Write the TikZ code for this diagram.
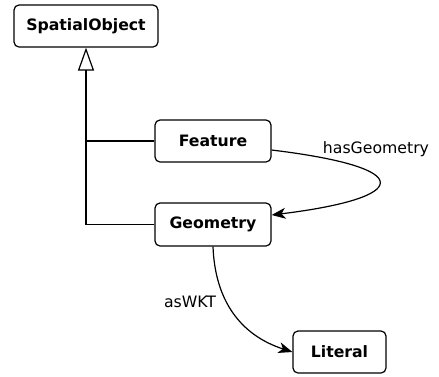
\documentclass[tikz,border=0pt]{standalone}
\usepackage{fontspec}
\setmainfont{DejaVu Sans}
\usetikzlibrary{arrows.meta}
\begin{document}
\begin{tikzpicture}[x=1pt,y=-1pt,
  cls/.style={draw,line width=1.2pt,rounded corners=5pt,inner sep=0pt,minimum height=42pt,font=\fontsize{15.7}{18}\selectfont\bfseries},
  lbl/.style={font=\fontsize{15.7}{18}\selectfont},
  conn/.style={line width=1.2pt},
  head/.style={-{Stealth[length=14pt,width=11pt,inset=4pt]}}]
\useasboundingbox (0,0) rectangle (439,376);
\node[cls,minimum width=144pt] (so) at (86,26) {SpatialObject};
\node[cls,minimum width=116pt] (feat) at (213,141) {Feature};
\node[cls,minimum width=116pt,minimum height=43pt] (geom) at (213,224.5) {Geometry};
\node[cls,minimum width=93pt] (lit) at (339.5,352) {Literal};
\draw[conn,-{Triangle[open,length=23pt,width=16pt,line width=1.2pt]}] (geom.west) -| (so.south);
\draw[conn] (feat.west) -- (feat.west -| so.south);
\draw[conn,head] ([yshift=-9pt]feat.east) .. controls (420,168) and (410,198) .. ([yshift=9.5pt]geom.east);
\draw[conn,head] (geom.south) .. controls (215,300) and (240,335) .. (lit.west);
\node[lbl] (hg) at (376,149) {hasGeometry};
\node[lbl] (wkt) at (190,302) {asWKT};
\end{tikzpicture}
\end{document}
